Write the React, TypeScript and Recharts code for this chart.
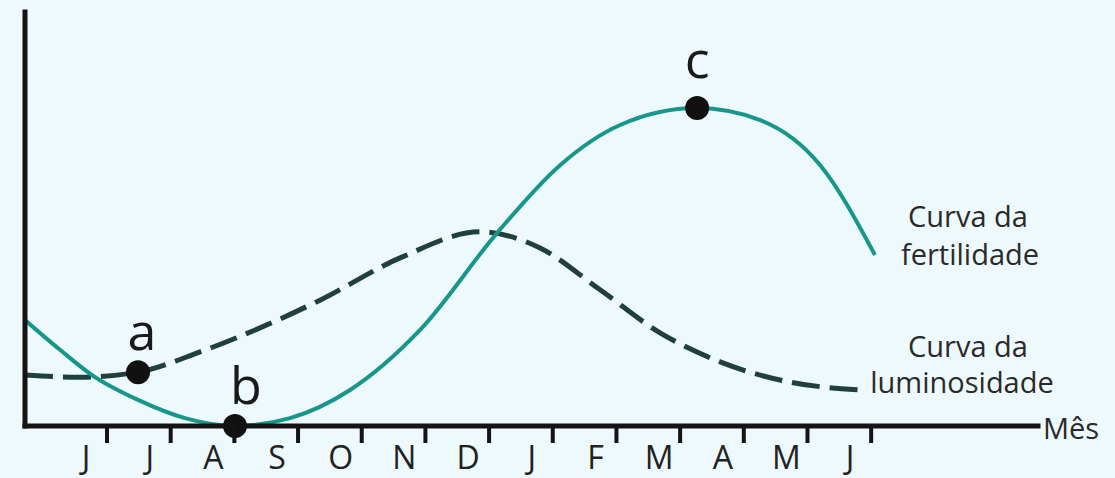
import React from 'react';
import { LineChart, Line, XAxis, YAxis, ReferenceDot, Customized } from 'recharts';

// Month ticks (June ... June)
const monthTicks = [0, 1, 2, 3, 4, 5, 6, 7, 8, 9, 10, 11, 12];
const monthLabels = ['J', 'J', 'A', 'S', 'O', 'N', 'D', 'J', 'F', 'M', 'A', 'M', 'J'];

// Curva da fertilidade (solid)
const fertilityX = [-1.288, -0.738, -0.236, 0.487, 1.225, 2.01, 2.874, 3.817, 4.916, 6.14, 7.115, 8.057, 9.267, 10.256, 11.2, 12.06];
const fertilityY = [25.6, 18.4, 12.3, 6.3, 1.9, 0, 1.9, 8.7, 23.2, 46.9, 63.0, 72.7, 76.8, 73.9, 63.0, 41.3];

// Curva da luminosidade (dashed)
const luminosityX = [-1.288, -0.424, 0.487, 1.461, 2.403, 3.345, 4.602, 5.858, 6.8, 7.743, 8.685, 9.628, 10.727, 11.827];
const luminosityY = [12.3, 11.8, 13.0, 17.9, 23.7, 30.4, 40.6, 46.9, 43.0, 32.9, 22.5, 15.5, 10.6, 8.7];

// Marked points
const markLabels = ['a', 'b', 'c'];
const markX = [0.487, 2.01, 9.267];
const markY = [13.0, 0, 76.8];

const markOffsets = [10, 10, 18];
const markDx = [4, 11, 0];

const fertilityData = fertilityX.map((x, i) => ({ x, y: fertilityY[i] }));
const luminosityData = luminosityX.map((x, i) => ({ x, y: luminosityY[i] }));

const FONT = '"Open Sans", "Noto Sans", sans-serif';
const INK = '#141414';

const MonthTick = (props: any) => {
  const { x, y, payload } = props;
  const idx = payload.value as number;
  return (
    <g>
      <line x1={x} y1={y} x2={x} y2={y + 17} stroke={INK} strokeWidth={4} />
      <text x={x - 21} y={y + 43} textAnchor="middle" fontFamily={FONT} fontSize={32} fill="#222">
        {monthLabels[idx]}
      </text>
    </g>
  );
};

const Annotations = () => (
  <g fontFamily={FONT} fill="#2a2a2a" fontSize={29}>
    <text x={968} y={227} textAnchor="middle">Curva da</text>
    <text x={970} y={265} textAnchor="middle">fertilidade</text>
    <text x={968} y={357} textAnchor="middle">Curva da</text>
    <text x={962} y={393} textAnchor="middle">luminosidade</text>
    <text x={1043} y={439} textAnchor="start">Mês</text>
  </g>
);

export default function App() {
  return (
    <div style={{ position: 'absolute', left: 0, top: 0, width: 1115, height: 478, background: '#eef9fd' }}>
      <LineChart width={1115} height={478} margin={{ top: 12, right: 77, bottom: 0, left: 0 }}>
        <XAxis
          dataKey="x"
          type="number"
          domain={[-1.288, 14.62]}
          ticks={monthTicks}
          interval={0}
          allowDataOverflow
          height={52}
          axisLine={{ stroke: INK, strokeWidth: 5, strokeLinecap: 'square' }}
          tickLine={false}
          tickSize={0}
          tickMargin={0}
          tick={<MonthTick />}
        />
        <YAxis
          type="number"
          domain={[0, 100]}
          width={25}
          tick={false}
          tickLine={false}
          axisLine={{ stroke: INK, strokeWidth: 5, strokeLinecap: 'square' }}
        />
        <Line
          data={luminosityData}
          dataKey="y"
          type="monotone"
          stroke="#1f403b"
          strokeWidth={5}
          strokeDasharray="28 10"
          dot={false}
          isAnimationActive={false}
        />
        <Line
          data={fertilityData}
          dataKey="y"
          type="monotone"
          stroke="#17968a"
          strokeWidth={4}
          dot={false}
          isAnimationActive={false}
        />
        {markLabels.map((lab, i) => (
          <ReferenceDot
            key={lab}
            x={markX[i]}
            y={markY[i]}
            r={12}
            fill="#111"
            stroke="none"
            ifOverflow="visible"
            label={{ value: lab, position: 'top', offset: markOffsets[i], dx: markDx[i], fontSize: 52, fill: '#1a1a1a', fontFamily: FONT }}
          />
        ))}
        <Customized component={Annotations} />
      </LineChart>
    </div>
  );
}
